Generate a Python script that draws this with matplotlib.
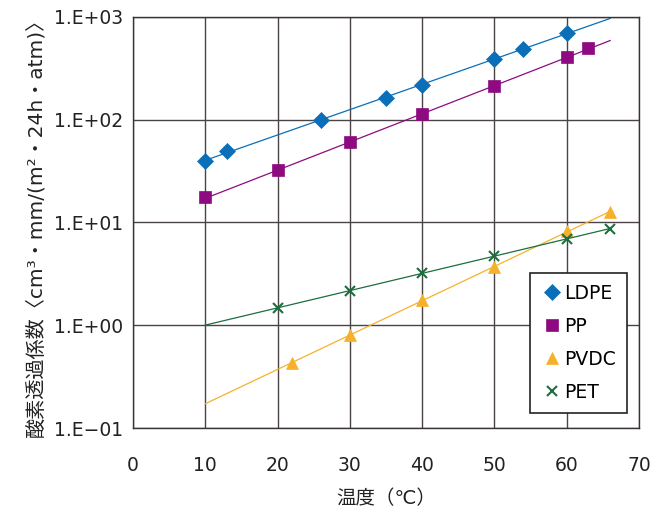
import numpy as np
import matplotlib.pyplot as plt

plt.rcParams['font.family'] = ['DejaVu Sans', 'Noto Sans CJK JP']

# Dane
ldpe_x = [10, 13, 26, 35, 40, 50, 54, 60]
ldpe_y = [40, 49, 100, 161, 216, 392, 486, 700]

pp_x = [10, 20, 30, 40, 50, 60, 63]
pp_y = [17.5, 32, 60, 113, 212, 404, 493]

pvdc_x = [22, 30, 40, 50, 60, 66]
pvdc_y = [0.43, 0.81, 1.76, 3.65, 8.3, 12.6]

pet_x = [20, 30, 40, 50, 60, 66]
pet_y = [1.47, 2.17, 3.23, 4.72, 6.9, 8.7]

series = [
    ('LDPE', ldpe_x, ldpe_y, 'D', '#0a6fb8', 8),
    ('PP', pp_x, pp_y, 's', '#8e0a80', 8),
    ('PVDC', pvdc_x, pvdc_y, '^', '#f6b12c', 8.5),
    ('PET', pet_x, pet_y, 'x', '#1c6e3f', 7.5),
]

x_ticks = [0, 10, 20, 30, 40, 50, 60, 70]
y_ticks = [0.1, 1, 10, 100, 1000]
y_labels = ['1.E\u221201', '1.E+00', '1.E+01', '1.E+02', '1.E+03']


def linia_trendu(x, y):
    # Dopasowanie wykladnicze (prosta w skali log)
    a, b = np.polyfit(x, np.log10(y), 1)
    xs = np.linspace(10, 66, 50)
    return xs, 10 ** (a * xs + b)


fig = plt.figure(figsize=(6.72, 5.24), dpi=100)
ax = fig.add_axes([0.198, 0.183, 0.753, 0.785])

for name, x, y, m, c, ms in series:
    xs, ys = linia_trendu(x, y)
    ax.plot(xs, ys, color=c, linewidth=0.9)
    ax.plot(x, y, linestyle='none', marker=m, color=c, markersize=ms,
            markeredgewidth=1.5 if m == 'x' else 0.5, label=name)

ax.set_yscale('log')
ax.set_xlim(0, 70)
ax.set_ylim(0.1, 1000)
ax.set_xticks(x_ticks)
ax.set_yticks(y_ticks)
ax.set_yticklabels(y_labels)
ax.minorticks_off()
ax.tick_params(length=0, labelsize=13.5, colors='#222222')
ax.tick_params(axis='x', pad=20)
ax.tick_params(axis='y', pad=7)
ax.grid(True, color='#4a4444', linewidth=1.0)
for s in ax.spines.values():
    s.set_color('#3a3333')
    s.set_linewidth(1.0)

ax.set_xlabel('温度（℃）', fontsize=14, labelpad=10, color='#222222')
ax.set_ylabel('酸素透過係数〈cm³・mm/(m²・24h・atm)〉', fontsize=14.5,
              labelpad=6, color='#222222')

leg = ax.legend(loc='lower right', bbox_to_anchor=(0.976, 0.036),
                borderaxespad=0, fontsize=13.5, fancybox=False, framealpha=1,
                edgecolor='#222222', handletextpad=0.1, handlelength=1.1,
                labelspacing=0.75, borderpad=0.6)
leg.get_frame().set_linewidth(1.2)

fig.savefig('out.png', dpi=100)
